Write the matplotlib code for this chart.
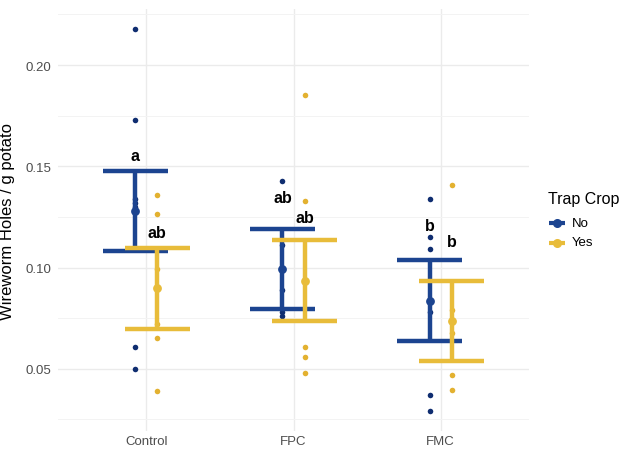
import matplotlib
matplotlib.use("Agg")
import matplotlib.pyplot as plt
import numpy as np
from matplotlib.lines import Line2D

plt.rcParams['font.family'] = ['Liberation Sans', 'DejaVu Sans']

categories = ["Control", "FPC", "FMC"]
groups = ["No", "Yes"]

# individual observations
points_no = [
    [0.218, 0.173, 0.134, 0.132, 0.130, 0.061, 0.050],
    [0.143, 0.111, 0.089, 0.078, 0.076],
    [0.134, 0.115, 0.109, 0.078, 0.037, 0.029],
]
points_yes = [
    [0.136, 0.1265, 0.0995, 0.072, 0.065, 0.039],
    [0.185, 0.133, 0.061, 0.056, 0.048],
    [0.141, 0.079, 0.0675, 0.047, 0.0394],
]
mean_no = [0.128, 0.0995, 0.0837]
low_no = [0.1082, 0.0795, 0.0637]
high_no = [0.1478, 0.1192, 0.1036]
mean_yes = [0.0897, 0.0936, 0.0736]
low_yes = [0.0696, 0.0737, 0.0538]
high_yes = [0.1097, 0.1134, 0.0933]
letters_no = ["a", "ab", "b"]
letters_yes = ["ab", "ab", "b"]
letter_y_no = [0.1553, 0.1345, 0.1208]
letter_y_yes = [0.1171, 0.1246, 0.1127]

col_no_bar = "#1C4490"
col_no_pt = "#0F2D70"
col_yes_bar = "#E8BC3A"
col_yes_pt = "#E3B130"
group_colors = [col_no_bar, col_yes_bar]

W, H = 622, 452
fig = plt.figure(figsize=(W/100, H/100), dpi=100)
ax = fig.add_axes([58/W, 1-432/H, (529-58)/W, (432-10)/H])

x = np.arange(len(categories))
dodge = 0.075
hw = 0.22

for i in range(len(categories)):
    for pts, mean, lo, hi, off, cb, cp in [
        (points_no[i], mean_no[i], low_no[i], high_no[i], -dodge, col_no_bar, col_no_pt),
        (points_yes[i], mean_yes[i], low_yes[i], high_yes[i], dodge, col_yes_bar, col_yes_pt),
    ]:
        xc = x[i] + off
        ax.scatter([xc]*len(pts), pts, s=16, color=cp, zorder=3, linewidths=0)
        ax.plot([xc, xc], [lo, hi], color=cb, lw=3.2, zorder=4, solid_capstyle='butt')
        ax.plot([xc-hw, xc+hw], [lo, lo], color=cb, lw=3.2, zorder=4, solid_capstyle='butt')
        ax.plot([xc-hw, xc+hw], [hi, hi], color=cb, lw=3.2, zorder=4, solid_capstyle='butt')
        ax.scatter([xc], [mean], s=40, color=cb, zorder=5, linewidths=0)
    ax.text(x[i]-dodge, letter_y_no[i], letters_no[i], ha='center', va='center',
            fontsize=11.5, fontweight='bold', color='black', zorder=6)
    ax.text(x[i]+dodge, letter_y_yes[i], letters_yes[i], ha='center', va='center',
            fontsize=11.5, fontweight='bold', color='black', zorder=6)

ax.set_xlim(-0.6, 2.6)
ax.set_ylim(0.0193, 0.2277)
ax.set_xticks(x)
ax.set_xticklabels(categories)
ax.set_yticks([0.05, 0.10, 0.15, 0.20])
ax.set_yticklabels(["0.05", "0.10", "0.15", "0.20"])
ax.set_yticks([0.025, 0.075, 0.125, 0.175, 0.225], minor=True)
ax.grid(True, which='major', color='#EBEBEB', lw=1.0)
ax.grid(True, which='minor', axis='y', color='#F3F3F3', lw=0.7)
ax.set_axisbelow(True)
for s in ax.spines.values():
    s.set_visible(False)
ax.tick_params(axis='both', which='both', length=0, labelsize=9.5, colors='#4D4D4D')
ax.tick_params(axis='y', pad=5)
ax.tick_params(axis='x', pad=3)
ax.set_ylabel("Wireworm Holes / g potato", fontsize=12, color='black')
ax.yaxis.set_label_coords(-0.091, 0.5)

# legend drawn in figure pixel coordinates
fig.text(548/W, 1-200/H, "Trap Crop", fontsize=11.5, ha='left', va='center', color='black')
for k, (g, c) in enumerate(zip(groups, group_colors)):
    yy = 1 - (224 + 19.5*k)/H
    fig.add_artist(Line2D([549/W, 565/W], [yy, yy], color=c, lw=3,
                          solid_capstyle='butt', transform=fig.transFigure))
    fig.add_artist(Line2D([557/W], [yy], color=c, marker='o', markersize=5.5,
                          linestyle='none', transform=fig.transFigure))
    fig.text(572/W, yy, g, fontsize=9.5, ha='left', va='center', color='black')

fig.savefig("out.png", dpi=100)
